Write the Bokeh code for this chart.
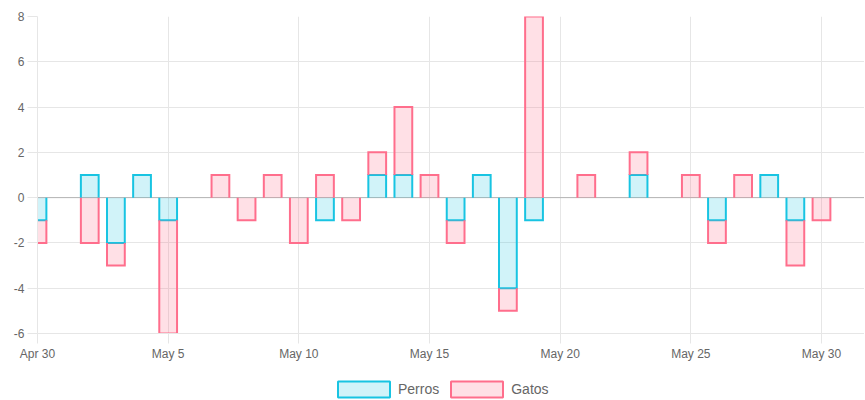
from datetime import datetime, timezone

from bokeh.plotting import figure
from bokeh.layouts import column
from bokeh.models import (Range1d, FixedTicker, CustomJSTickFormatter, Legend,
                          LegendItem, Span, ColumnDataSource)
from bokeh.embed import file_html
from bokeh.resources import INLINE

# ---- data ----
dates = ["2020-04-30", "2020-05-01", "2020-05-02", "2020-05-03", "2020-05-04",
         "2020-05-05", "2020-05-06", "2020-05-07", "2020-05-08", "2020-05-09",
         "2020-05-10", "2020-05-11", "2020-05-12", "2020-05-13", "2020-05-14",
         "2020-05-15", "2020-05-16", "2020-05-17", "2020-05-18", "2020-05-19",
         "2020-05-20", "2020-05-21", "2020-05-22", "2020-05-23", "2020-05-24",
         "2020-05-25", "2020-05-26", "2020-05-27", "2020-05-28", "2020-05-29",
         "2020-05-30"]
perros = [-1, 0, 1, -2, 1, -1, 0, 0, 0, 0, 0, -1, 0, 1, 1, 0, -1, 1, -4, -1,
          0, 0, 0, 1, 0, 0, -1, 0, 1, -1, 0]
gatos = [-1, 0, -2, -1, 0, -5, 0, 1, -1, 1, -2, 1, -1, 1, 3, 1, -1, 0, -1, 8,
         0, 1, 0, 1, 0, 1, -1, 1, 0, -2, -1]
series_names = ["Perros", "Gatos"]
tick_dates = ["2020-04-30", "2020-05-05", "2020-05-10", "2020-05-15",
              "2020-05-20", "2020-05-25", "2020-05-30"]
y_ticks = [-6, -4, -2, 0, 2, 4, 6, 8]
x_end_date = "2020-05-31T15:30"

# ---- styles ----
CYAN = "rgb(24, 196, 226)"
CYAN_FILL = "rgba(24, 196, 226, 0.2)"
PINK = "rgb(255, 110, 140)"
PINK_FILL = "rgba(255, 99, 132, 0.2)"
GRID = "#e6e6e6"
TEXT = "#666666"
FONT = "Liberation Sans"
DAY_MS = 86400000.0
BAR_W = 0.68 * DAY_MS


def to_ms(s):
    d = datetime.fromisoformat(s).replace(tzinfo=timezone.utc)
    return d.timestamp() * 1000.0


xs_ms = [to_ms(d) for d in dates]

pos_base = [0.0] * len(dates)
neg_base = [0.0] * len(dates)


def stack(values):
    out = {"x": [], "start": [], "end": [], "bx": [], "by": []}
    for i, v in enumerate(values):
        if v == 0:
            continue
        if v > 0:
            s = pos_base[i]
            pos_base[i] = s + v
        else:
            s = neg_base[i]
            neg_base[i] = s + v
        e = s + v
        x = xs_ms[i]
        out["x"].append(x)
        out["start"].append(s)
        out["end"].append(e)
        x0, x1 = x - BAR_W / 2, x + BAR_W / 2
        out["bx"].append([x0, x0, x1, x1])
        out["by"].append([s, e, e, s])
    return out


st_p = stack(perros)
st_g = stack(gatos)

p = figure(frame_width=827, frame_height=317, output_backend="svg",
           toolbar_location=None,
           x_range=Range1d(to_ms(dates[0]), to_ms(x_end_date)),
           y_range=Range1d(y_ticks[0], y_ticks[-1]),
           min_border_left=37, min_border_top=16, min_border_right=0,
           min_border_bottom=46)
p.outline_line_color = None
p.background_fill_color = "white"

p.xgrid.ticker = FixedTicker(ticks=[to_ms(d) for d in tick_dates])
p.ygrid.ticker = FixedTicker(ticks=y_ticks)
for g in (p.xgrid, p.ygrid):
    g.grid_line_color = GRID
    g.grid_line_width = 1

zero = Span(location=0, dimension="width", line_color="rgba(0,0,0,0.22)",
            line_width=1, level="underlay")
p.add_layout(zero)

p.xaxis.ticker = FixedTicker(ticks=[to_ms(d) for d in tick_dates])
p.xaxis.formatter = CustomJSTickFormatter(code="""
const m = ["Jan","Feb","Mar","Apr","May","Jun","Jul","Aug","Sep","Oct","Nov","Dec"];
const d = new Date(tick);
return m[d.getUTCMonth()] + " " + d.getUTCDate();
""")
p.yaxis.ticker = FixedTicker(ticks=y_ticks)
p.yaxis.formatter = CustomJSTickFormatter(code="return String(tick);")
for ax in (p.xaxis, p.yaxis):
    ax.axis_line_color = GRID
    ax.major_tick_line_color = GRID
    ax.major_tick_out = 10
    ax.major_tick_in = 0
    ax.minor_tick_line_color = None
    ax.major_label_text_font = FONT
    ax.major_label_text_font_size = "12px"
    ax.major_label_text_color = TEXT
p.xaxis.major_label_standoff = 3
p.yaxis.major_label_standoff = 3

colors = [(CYAN, CYAN_FILL), (PINK, PINK_FILL)]
for st, (lc, fc) in zip([st_p, st_g], colors):
    src = ColumnDataSource(dict(x=st["x"], start=st["start"], end=st["end"]))
    p.vbar(x="x", bottom="start", top="end", width=BAR_W, source=src,
           fill_color=fc, line_color=None)
    p.multi_line(xs=st["bx"], ys=st["by"], line_color=lc, line_width=2,
                 line_join="miter")

# ---- legend strip (separate small figure below the chart) ----
lg = figure(width=865, height=20, output_backend="svg", toolbar_location=None,
            x_range=Range1d(0, 1), y_range=Range1d(0, 1),
            x_axis_location=None, y_axis_location=None,
            min_border=0, min_border_left=0, min_border_right=0,
            min_border_top=0, min_border_bottom=0)
lg.outline_line_color = None
lg.grid.visible = False
legend_renderers = []
for lc, fc in colors:
    # hidden placeholder glyph: only its legend swatch is shown
    legend_renderers.append(lg.vbar(x=[0.5], top=[0.5], width=0.1,
                                    fill_color=fc, line_color=lc,
                                    line_width=2, visible=False))
legend = Legend(items=[LegendItem(label=n, renderers=[r])
                       for n, r in zip(series_names, legend_renderers)],
                orientation="horizontal", location=(294, 0),
                glyph_width=65, glyph_height=20, label_standoff=2, spacing=5,
                padding=0, margin=0, border_line_color=None,
                background_fill_alpha=0, inactive_fill_alpha=0,
                label_text_font=FONT, label_text_font_size="14px",
                label_text_color=TEXT)
lg.add_layout(legend, "center")

layout = column(p, lg, spacing=0)
open("out.html", "w").write(file_html(layout, INLINE))
